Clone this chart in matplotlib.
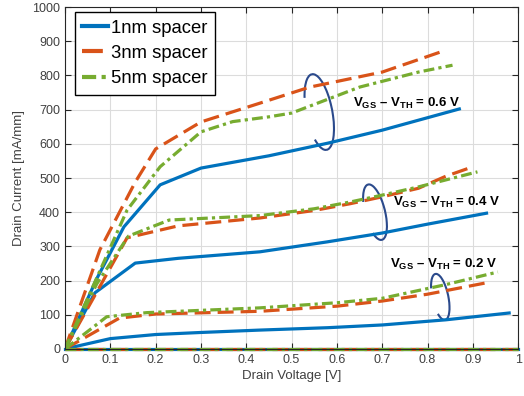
import matplotlib
matplotlib.use('Agg')
import matplotlib.pyplot as plt
import matplotlib.transforms as mtransforms
from matplotlib.patches import Arc

plt.rcParams['font.family'] = ['Liberation Sans', 'DejaVu Sans']
plt.rcParams['mathtext.fontset'] = 'custom'
plt.rcParams['mathtext.rm'] = 'Liberation Sans'
plt.rcParams['mathtext.bf'] = 'Liberation Sans:bold'

# 1nm spacer (blue, solid)
x1_06 = [0, 0.07, 0.13, 0.21, 0.30, 0.45, 0.58, 0.70, 0.87]
y1_06 = [0, 205, 357, 480, 529, 565, 602, 640, 702]
x1_04 = [0, 0.066, 0.155, 0.25, 0.43, 0.578, 0.70, 0.80, 0.93]
y1_04 = [0, 164, 251, 265, 284, 313, 339, 365, 397]
x1_02 = [0, 0.1, 0.2, 0.3, 0.43, 0.58, 0.70, 0.84, 0.98]
y1_02 = [0, 30, 42, 48, 55, 62, 70, 85, 105]

# 3nm spacer (orange, dashed)
x3_06 = [0, 0.077, 0.155, 0.20, 0.30, 0.43, 0.54, 0.70, 0.84]
y3_06 = [0, 290, 488, 585, 664, 719, 766, 810, 874]
x3_04 = [0, 0.137, 0.25, 0.43, 0.55, 0.63, 0.70, 0.78, 0.84, 0.90]
y3_04 = [0, 325, 360, 383, 405, 425, 445, 470, 505, 533]
x3_02 = [0, 0.12, 0.20, 0.43, 0.60, 0.70, 0.80, 0.94]
y3_02 = [0, 90, 102, 110, 125, 140, 160, 196]

# 5nm spacer (green, dash-dot)
x5_06 = [0, 0.137, 0.21, 0.30, 0.37, 0.45, 0.50, 0.65, 0.78, 0.855]
y5_06 = [0, 406, 533, 635, 665, 679, 690, 766, 810, 830]
x5_04 = [0, 0.07, 0.14, 0.23, 0.43, 0.55, 0.63, 0.70, 0.78, 0.91]
y5_04 = [0, 190, 330, 377, 390, 410, 430, 450, 474, 518]
x5_02 = [0, 0.055, 0.092, 0.18, 0.43, 0.60, 0.70, 0.84, 0.955]
y5_02 = [0, 56, 94, 106, 120, 135, 148, 188, 225]

# Vgs - Vth = 0 (all zero)
x_off = [0, 1]
y_off = [0, 0]

labels = ['1nm spacer', '3nm spacer', '5nm spacer']
overdrive = ['0.6', '0.4', '0.2']
label_pos = [(0.636, 719), (0.724, 427), (0.717, 246)]
arc_pos = [(0.561, 693, 26, 77, 11), (0.684, 400, 20, 57, 14), (0.828, 152, 16, 47, 12)]

blue, orange, green = '#0072BD', '#D95319', '#77AC30'
lw = 2.3
dash = (0, (5, 2.2))
dashdot = (0, (3.4, 1.3, 1.0, 1.3))

fig = plt.figure(figsize=(5.24, 3.96), dpi=100)
ax = fig.add_axes([0.124, 0.119, 0.865, 0.863])

h1, = ax.plot(x1_06, y1_06, color=blue, lw=lw)
ax.plot(x1_04, y1_04, color=blue, lw=lw)
ax.plot(x1_02, y1_02, color=blue, lw=lw)
ax.plot(x_off, y_off, color=blue, lw=lw, clip_on=False)
h3, = ax.plot(x3_06, y3_06, color=orange, lw=lw, linestyle=dash)
ax.plot(x3_04, y3_04, color=orange, lw=lw, linestyle=dash)
ax.plot(x3_02, y3_02, color=orange, lw=lw, linestyle=dash)
ax.plot(x_off, y_off, color=orange, lw=lw, linestyle=dash, clip_on=False)
h5, = ax.plot(x5_06, y5_06, color=green, lw=lw, linestyle=dashdot)
ax.plot(x5_04, y5_04, color=green, lw=lw, linestyle=dashdot)
ax.plot(x5_02, y5_02, color=green, lw=lw, linestyle=dashdot)
ax.plot(x_off, y_off, color=green, lw=lw, linestyle=dashdot, clip_on=False)

# annotations
for (tx, ty), v in zip(label_pos, overdrive):
    ax.text(tx, ty, r'V$_{\mathbf{GS}}$ – V$_{\mathbf{TH}}$ = ' + v + ' V',
            fontsize=9.5, fontweight='bold', va='center', ha='left', color='black')
for cx, cy, w, h, ang in arc_pos:
    tr = mtransforms.ScaledTranslation(cx, cy, ax.transData)
    ax.add_patch(Arc((0, 0), w, h, angle=ang, theta1=250, theta2=125,
                     transform=tr, color='#2B4A8C', lw=1.5, clip_on=False))

ax.set_xlim(0, 1)
ax.set_ylim(0, 1000)
ax.set_xticks([i / 10 for i in range(11)])
ax.set_xticklabels(['0', '0.1', '0.2', '0.3', '0.4', '0.5', '0.6', '0.7', '0.8', '0.9', '1'])
ax.set_yticks(range(0, 1001, 100))
ax.tick_params(direction='in', top=True, right=True, length=4, labelsize=9,
               labelcolor='#404040', color='#262626')
ax.grid(True, color='#dcdcdc', lw=0.8)
ax.set_axisbelow(True)
for s in ax.spines.values():
    s.set_color('#262626')
    s.set_linewidth(0.8)
ax.set_xlabel('Drain Voltage [V]', fontsize=9.5, color='#404040', labelpad=3)
ax.set_ylabel('Drain Current [mA/mm]', fontsize=9.5, color='#404040', labelpad=5)

leg = ax.legend([h1, h3, h5], labels, loc='upper left', bbox_to_anchor=(0.022, 0.985),
                borderaxespad=0, fontsize=13.3, handlelength=1.4, handletextpad=0.15,
                labelspacing=0.45, borderpad=0.4, fancybox=False, framealpha=1)
leg.get_frame().set_edgecolor('black')
leg.get_frame().set_linewidth(1.0)
for line in leg.get_lines():
    line.set_linewidth(3)

fig.savefig('out.png', dpi=100)
